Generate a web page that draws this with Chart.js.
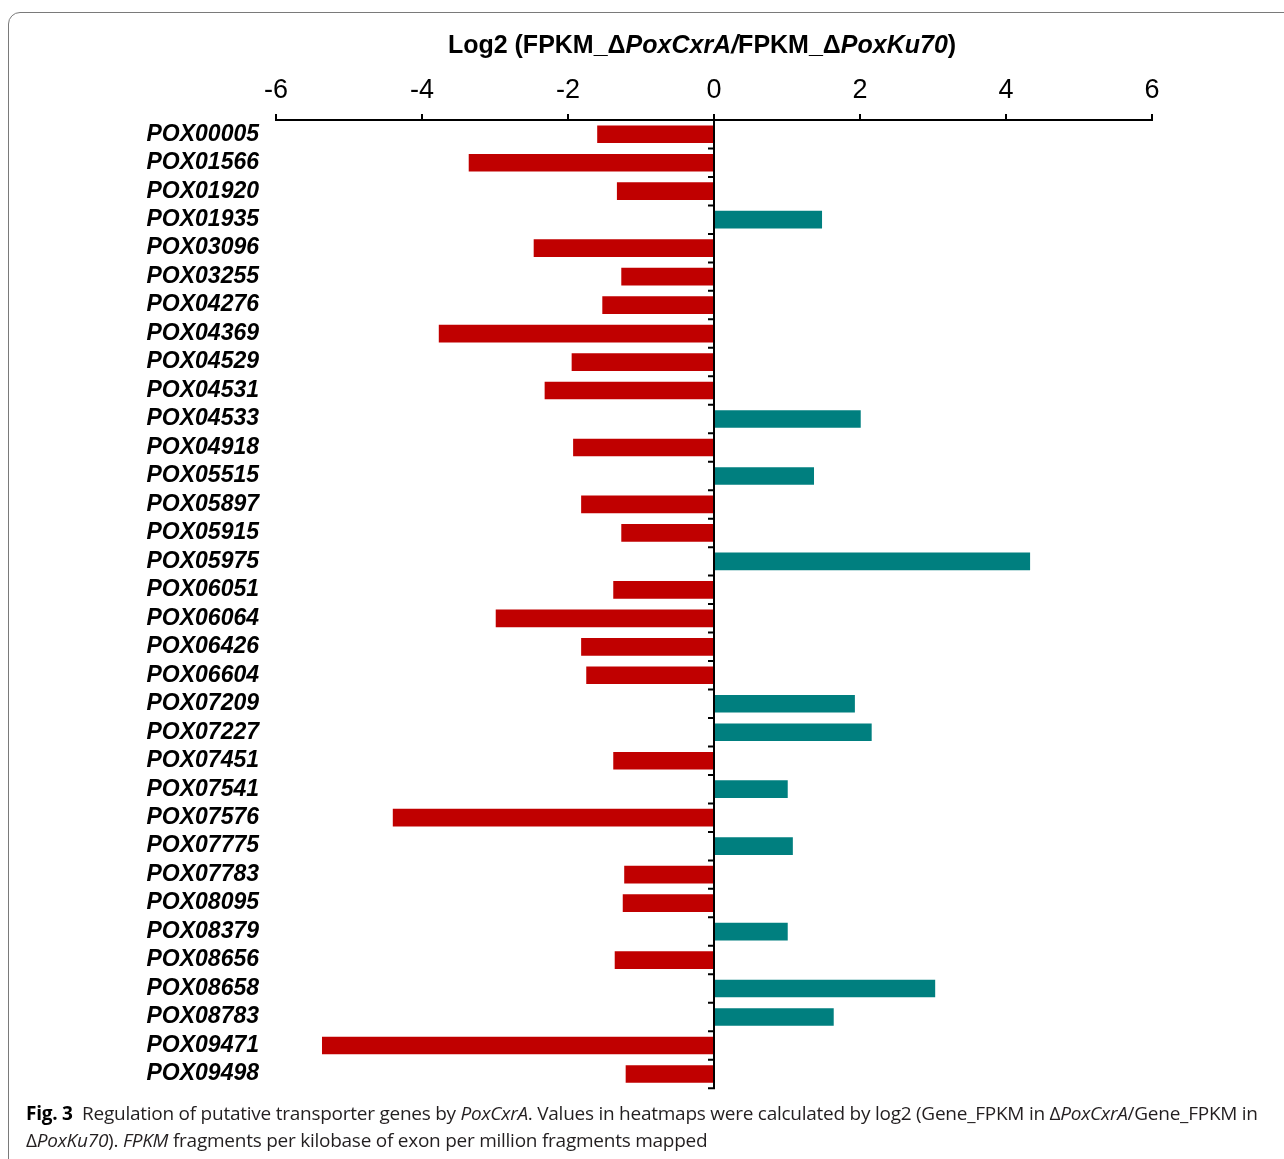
<!DOCTYPE html>
<html>
<head>
<meta charset="utf-8">
<script src="https://cdn.jsdelivr.net/npm/chart.js@4.4.1/dist/chart.umd.min.js"></script>
<style>
  html, body { margin: 0; padding: 0; background: #fff; width: 1284px; height: 1159px; overflow: hidden; }
  #frame { position: absolute; left: 8px; top: 12px; width: 1320px; height: 1200px; border: 1px solid #7a7a7a; border-radius: 12px; box-sizing: border-box; }
  #wrap { position: absolute; left: 0; top: 0; width: 1284px; height: 1119px; }
  #caption { position: absolute; left: 26px; top: 1100px; font-family: "Open Sans", "Noto Sans", sans-serif; font-size: 19px; line-height: 27px; color: #231f20; white-space: nowrap; letter-spacing: -0.25px; }
  #caption b { color: #000; }
</style>
</head>
<body>
<div id="frame"></div>
<div id="wrap"><canvas id="c" width="1284" height="1119"></canvas></div>
<div id="caption"><b>Fig. 3</b>&nbsp; Regulation of putative transporter genes by <i>PoxCxrA</i>. Values in heatmaps were calculated by log2 (Gene_FPKM in Δ<i>PoxCxrA</i>/Gene_FPKM in<br>Δ<i>PoxKu70</i>). <i>FPKM</i> fragments per kilobase of exon per million fragments mapped</div>
<script>
const genes = ["POX00005","POX01566","POX01920","POX01935","POX03096","POX03255","POX04276","POX04369","POX04529","POX04531","POX04533","POX04918","POX05515","POX05897","POX05915","POX05975","POX06051","POX06064","POX06426","POX06604","POX07209","POX07227","POX07451","POX07541","POX07576","POX07775","POX07783","POX08095","POX08379","POX08656","POX08658","POX08783","POX09471","POX09498"];
const log2Ratio = [-1.60,-3.36,-1.33,1.48,-2.47,-1.27,-1.53,-3.77,-1.95,-2.32,2.01,-1.93,1.37,-1.82,-1.27,4.33,-1.38,-2.99,-1.82,-1.75,1.93,2.16,-1.38,1.01,-4.40,1.08,-1.23,-1.25,1.01,-1.36,3.03,1.64,-5.37,-1.21];
const xTicks = [-6,-4,-2,0,2,4,6];
const titleParts = [
  {t:"Log2 (FPKM_Δ", i:false},
  {t:"PoxCxrA/", i:true},
  {t:"FPKM_Δ", i:false},
  {t:"PoxKu70", i:true},
  {t:")", i:false}
];
const upColor = "#007f7f";
const downColor = "#c00000";

const zeroAxisPlugin = {
  id: 'zeroAxis',
  afterDatasetsDraw(chart) {
    const ctx = chart.ctx, xs = chart.scales.x, ys = chart.scales.y;
    const x0 = xs.getPixelForValue(0);
    const top = chart.chartArea.top, bottom = chart.chartArea.bottom;
    ctx.save();
    ctx.strokeStyle = '#000';
    ctx.lineWidth = 2;
    ctx.beginPath();
    ctx.moveTo(x0, top);
    ctx.lineTo(x0, bottom);
    ctx.stroke();
    ctx.beginPath();
    for (let i = 0; i < genes.length; i++) {
      const yb = (ys.getPixelForValue(i) + (i + 1 < genes.length ? ys.getPixelForValue(i + 1) : 2 * ys.getPixelForValue(i) - ys.getPixelForValue(i - 1))) / 2;
      ctx.moveTo(x0 + 1, yb);
      ctx.lineTo(x0 - 6, yb);
    }
    ctx.stroke();
    ctx.restore();
  },
  afterDraw(chart) {
    const ctx = chart.ctx;
    ctx.save();
    const fN = 'bold 25px "Liberation Sans", Arial, sans-serif';
    const fI = 'italic bold 25px "Liberation Sans", Arial, sans-serif';
    let total = 0;
    titleParts.forEach(p => { ctx.font = p.i ? fI : fN; total += ctx.measureText(p.t).width; });
    const xs = chart.scales.x;
    let x = (xs.left + xs.right) / 2 - 12 - total / 2;
    ctx.fillStyle = '#000';
    ctx.textBaseline = 'alphabetic';
    ctx.textAlign = 'left';
    titleParts.forEach(p => { ctx.font = p.i ? fI : fN; ctx.fillText(p.t, x, 53); x += ctx.measureText(p.t).width; });
    ctx.restore();
  }
};

new Chart(document.getElementById('c'), {
  type: 'bar',
  data: {
    labels: genes,
    datasets: [{
      data: log2Ratio,
      backgroundColor: log2Ratio.map(v => v >= 0 ? upColor : downColor),
      borderWidth: 0,
      barPercentage: 0.62,
      categoryPercentage: 1.0
    }]
  },
  options: {
    indexAxis: 'y',
    responsive: false,
    animation: false,
    layout: { padding: { left: 0, right: 132, top: 0, bottom: 0 } },
    plugins: { legend: { display: false }, tooltip: { enabled: false }, title: { display: false } },
    scales: {
      x: {
        position: 'top',
        min: -6, max: 6,
        afterBuildTicks(scale) { scale.ticks = xTicks.map(v => ({ value: v })); },
        afterFit(scale) { scale.height = 120; },
        grid: { display: true, drawOnChartArea: false, drawTicks: true, tickLength: 6, color: '#000', lineWidth: 2 },
        border: { display: true, color: '#000', width: 2 },
        ticks: { color: '#000', padding: 7, font: { family: '"Liberation Sans Narrow", "Liberation Sans", Arial, sans-serif', size: 27 }, maxRotation: 0 }
      },
      y: {
        position: 'left',
        afterFit(scale) { scale.width = 276; },
        grid: { display: false, drawTicks: false },
        border: { display: false },
        ticks: { color: '#000', padding: 17, autoSkip: false, font: { family: '"Liberation Sans", Arial, sans-serif', size: 23, style: 'italic', weight: 'bold' } }
      }
    }
  },
  plugins: [zeroAxisPlugin]
});
</script>
</body>
</html>
